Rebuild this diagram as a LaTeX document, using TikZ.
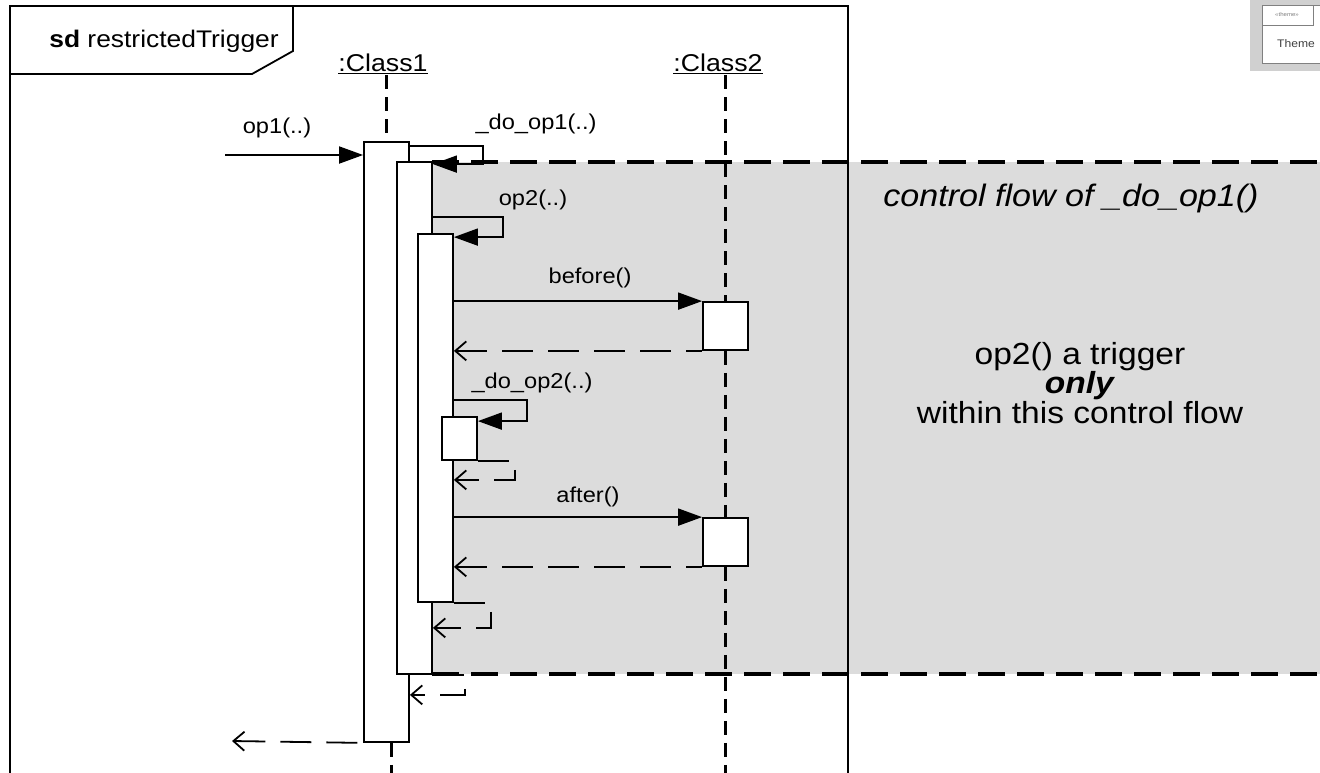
\documentclass[tikz,border=0pt]{standalone}
\usepackage{fontspec}
\setmainfont{Liberation Sans}[FakeStretch=1.1]
\usepackage{xcolor}
\usetikzlibrary{arrows.meta,positioning,calc}
\definecolor{flowGray}{RGB}{220,220,220}
\definecolor{thumbGray}{RGB}{208,208,208}

\begin{document}
\begin{tikzpicture}[x=1pt, y=-1pt,
  act/.style={draw, line width=1.8pt, fill=white, inner sep=0pt},
  life/.style={line width=3pt, dash pattern=on 14pt off 8pt},
  msg/.style={line width=1.8pt, -{Triangle[length=24pt,width=17pt]}},
  ret/.style={line width=1.8pt, dash pattern=on 31pt off 15pt,
              -{Straight Barb[length=11pt,width=19pt]}},
  back/.style={line width=1.8pt, dash pattern=on 31pt off 15pt,
              {Straight Barb[length=11pt,width=19pt]}-},
  region/.style={line width=4pt, dash pattern=on 27pt off 12pt},
  lbl/.style={font=\fontsize{21.5}{24}\selectfont, inner sep=0pt},
  cls/.style={font=\fontsize{24.3}{27}\selectfont, inner sep=1pt}
]
  \useasboundingbox (0,0) rectangle (1320,772);

  % control flow region
  \fill[flowGray] (432,162) rectangle (1330,674);
  \draw[region] (432,162) -- (1330,162);
  \draw[region] (432,674) -- (1330,674);

  % frame
  \draw[line width=1.8pt] (10,780) -- (10,6) -- (848,6) -- (848,780);
  \draw[line width=1.8pt] (293,6) -- (293,51) -- (252,74) -- (10,74);
  \node[font=\fontsize{24}{27}\selectfont] (title) at (164,41) {\textbf{sd} restrictedTrigger};

  \node[cls] (c1) at (383,64) {\underline{:Class1}};
  \node[cls] (c2) at (718,64) {\underline{:Class2}};

  % activations
  \node[act, minimum width=45pt, minimum height=600pt] (b1) at (386.5,442) {};
  \node[act, minimum width=35pt, minimum height=512pt] (b2) at (414.5,418) {};
  \node[act, minimum width=35pt, minimum height=368pt] (b3) at (435.5,418) {};
  \node[act, minimum width=35pt, minimum height=43pt]  (b4) at (459.5,438.5) {};
  \node[act, minimum width=45pt, minimum height=48pt]  (c2a) at (725.5,326) {};
  \node[act, minimum width=45pt, minimum height=48pt]  (c2b) at (725.5,542) {};

  % lifelines
  \coordinate (c1end) at (391,775);
  \coordinate (c2end) at (725.5,775);
  \draw[life] (b1.north |- c1.south) -- (b1.north);
  \draw[life] (b1.south -| c1end) -- (c1end);
  \draw[life] (c2a.north |- c2.south) -- (c2a.north);
  \draw[life] (c2a.south) -- (c2b.north);
  \draw[life] (c2b.south) -- (c2end);

  % messages
  \coordinate (op1in) at (225,155);
  \draw[msg] (op1in) -- (op1in -| b1.west);
  \node[lbl] (op1lbl) at (277,128) {op1(..)};

  \draw[msg] ([yshift=-5pt]b1.north east) -- ++(73,0) |- ([yshift=-3pt]b2.north east);
  \node[lbl] (do1lbl) at (536,124) {\_do\_op1(..)};

  \draw[msg] ([yshift=-56pt]b2.north east) -- ++(70,0) |- ([yshift=-4pt]b3.north east);
  \node[lbl] (op2lbl) at (533,200) {op2(..)};

  \draw[msg] (b3.east |- c2a.north west) -- (c2a.north west);
  \node[lbl] (beforelbl) at (590,278) {before()};
  \draw[back] (b3.east |- c2a.south west) -- (c2a.south west);

  \draw[msg] ([yshift=-167pt]b3.north east) -- ++(73,0) |- ([yshift=-5pt]b4.north east);
  \node[lbl] (do2lbl) at (532,383) {\_do\_op2(..)};
  \draw[ret] (b4.south east) -- ++(37,0) |- ($(b3.east |- b4.south)+(0,19)$);

  \draw[msg] (b3.east |- c2b.north west) -- (c2b.north west);
  \node[lbl] (afterlbl) at (588,497) {after()};
  \draw[back] (b3.east |- c2b.south west) -- (c2b.south west);

  % returns
  \draw[ret] (b3.south east) -- ++(37,0) |- ($(b2.east |- b3.south)+(0,25)$);
  \draw[ret] (b2.south east) -- ++(32,0) |- ($(b1.east |- b2.south)+(0,20)$);
  \coordinate (op1out) at (232,741);
  \draw[back] (op1out) -- (b1.south west);

  % notes
  \node[font=\fontsize{31}{36}\selectfont\itshape] (cflow) at (1071,198) {control flow of \_do\_op1()};
  \node[font=\fontsize{30.5}{29.5}\selectfont, align=center] (trig) at (1080,383)
    {op2() a trigger\\ \textbf{\textit{only}}\\ within this control flow};

  % theme thumbnail
  \begin{scope}
    \clip (1240,0) rectangle (1320,110);
    \fill[thumbGray] (1250,-2) rectangle (1330,71);
    \draw[gray, fill=white, line width=0.6pt] (1262,5) rectangle (1330,63);
    \draw[gray, line width=0.6pt] (1262,25) -- (1313,25) -- (1313,5);
    \node[font=\fontsize{5.5}{6}\selectfont, text=gray] (thm) at (1287,15) {«theme»};
    \node[font=\fontsize{11}{12}\selectfont, text=darkgray, anchor=west, inner sep=0pt] (thmname) at (1277,44) {Theme};
  \end{scope}
\end{tikzpicture}
\end{document}
